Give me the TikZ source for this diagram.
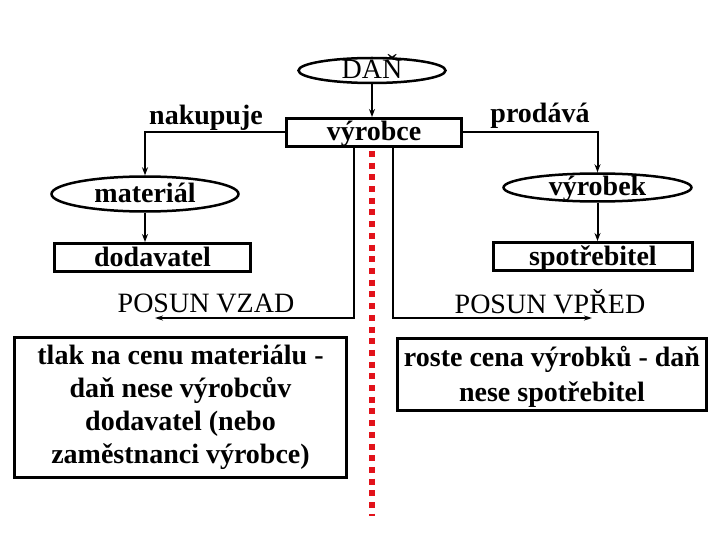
\documentclass[tikz,border=0pt]{standalone}
\usepackage{fontspec}
\setmainfont{Liberation Serif}
\usetikzlibrary{shapes.geometric,arrows.meta}
\definecolor{dotred}{RGB}{226,18,26}
\begin{document}
\begin{tikzpicture}[x=1pt,y=-1pt,
  bigfont/.style={font=\fontsize{28}{33}\selectfont\bfseries},
  regfont/.style={font=\fontsize{28}{33}\selectfont},
  box/.style={draw, rectangle, line width=3pt, inner sep=0pt, text height=17pt, text depth=0pt, minimum height=28pt, bigfont},
  bigbox/.style={draw, rectangle, line width=3pt, inner sep=0pt, align=center, bigfont},
  ell/.style={draw, ellipse, line width=2.5pt, inner sep=0pt, text height=17pt, text depth=0pt, bigfont},
  lbl/.style={anchor=base, inner sep=0pt, bigfont},
  conn/.style={line width=2pt, -{Stealth[length=8pt,width=6pt]}},
  posun/.style={line width=2.2pt, -{Stealth[length=8pt,width=5pt]}},
  redline/.style={draw=dotred, line width=6pt, dash pattern=on 6pt off 5.7pt}
]
\useasboundingbox (0,0) rectangle (720,540);

\node[ell, regfont, minimum width=147pt, minimum height=25pt] (dan) at (372,70.5) {DAŇ};
\node[box, minimum width=175pt] (vyr) at (374,132.5) {výrobce};
\node[ell, minimum width=187pt, minimum height=35pt] (mat) at (145,194) {materiál};
\node[box, minimum width=196pt] (dod) at (152.5,257.5) {dodavatel};
\node[ell, minimum width=188pt, minimum height=28pt] (vbk) at (597.5,187.5) {výrobek};
\node[box, minimum width=199pt] (spo) at (593,256.5) {spotřebitel};

\node[lbl] (nak) at (206,125) {nakupuje};
\node[lbl] (pro) at (540,123) {prodává};
\node[lbl, regfont] (vzad) at (206,312) {POSUN VZAD};
\node[lbl, regfont] (vpred) at (550,313) {POSUN VPŘED};

\node[bigbox, minimum width=332pt, minimum height=140pt] (tlak) at (180.5,407.5)
  {tlak na cenu materiálu -\\daň nese výrobcův\\dodavatel (nebo\\zaměstnanci výrobce)};
\node[bigbox, font=\fontsize{28}{35}\selectfont\bfseries, minimum width=309pt, minimum height=72pt] (roste) at (552,374.5)
  {\rule{0pt}{25pt}roste cena výrobků - daň\\nese spotřebitel};

\coordinate (vzadend) at (155,318);
\coordinate (vpredend) at (592,318);
\coordinate (redtop) at (372,151);
\coordinate (redbot) at (372,516);

\draw[conn] (dan.south) -- (dan.south |- vyr.north);
\draw[conn] (vyr.west) -| (mat.north);
\draw[conn] (vyr.east) -| (vbk.north);
\draw[conn] (mat.south) -- (mat.south |- dod.north);
\draw[conn] (vbk.south) -- (vbk.south |- spo.north);

\draw[posun] ([xshift=-20pt]vyr.south) |- (vzadend);
\draw[posun] ([xshift=19pt]vyr.south) |- (vpredend);

\draw[redline] (redtop) -- (redbot);
\end{tikzpicture}
\end{document}
